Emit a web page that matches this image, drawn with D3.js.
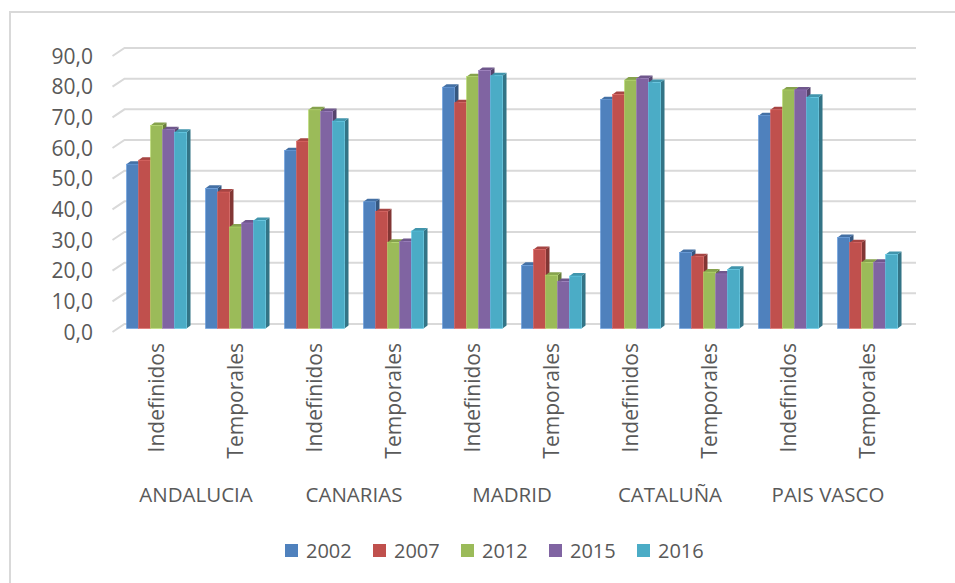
<!DOCTYPE html>
<html>
<head>
<meta charset="utf-8">
<script src="https://cdn.jsdelivr.net/npm/d3@7"></script>
<style>
    body { margin: 0; background: #fff; }
    svg text { font-family: "Open Sans", sans-serif; fill: #595959; }
</style>
</head>
<body>
<div id="chart"></div>
<script>
const regions = ["ANDALUCIA", "CANARIAS", "MADRID", "CATALUÑA", "PAIS VASCO"];
const contractTypes = ["Indefinidos", "Temporales"];
const years = ["2002", "2007", "2012", "2015", "2016"];
const yTicks = [0, 10, 20, 30, 40, 50, 60, 70, 80, 90];

// values per year, order: region x contract type
const values2002 = [53.6, 45.7, 58.0, 41.3, 78.7, 20.6, 74.6, 24.8, 69.4, 29.7];
const values2007 = [54.9, 44.5, 61.1, 38.1, 73.6, 25.8, 76.3, 23.4, 71.3, 28.0];
const values2012 = [66.2, 33.1, 71.3, 28.1, 82.1, 17.4, 81.0, 18.4, 77.8, 21.6];
const values2015 = [64.8, 34.4, 70.8, 28.4, 84.1, 15.3, 81.5, 17.8, 77.8, 21.6];
const values2016 = [64.0, 35.2, 67.6, 31.8, 82.4, 17.1, 80.2, 19.3, 75.4, 24.1];

const colors = ["#4F81BD", "#C0504D", "#9BBB59", "#8064A2", "#4BACC6"];

const datasets = years.map((y, i) => ({
    label: y,
    data: [values2002, values2007, values2012, values2015, values2016][i],
    color: colors[i],
}));

const categories = [];
regions.forEach((r) => contractTypes.forEach((t) => categories.push(`${r}|${t}`)));

const width = 955;
const height = 583;

const svg = d3
    .select("#chart")
    .append("svg")
    .attr("width", width)
    .attr("height", height);

// outer frame
svg.append("rect")
    .attr("x", 10)
    .attr("y", 12)
    .attr("width", 960)
    .attr("height", 600)
    .attr("fill", "none")
    .attr("stroke", "#d9d9d9")
    .attr("stroke-width", 2);

// scales (bar plane)
const xScale = d3
    .scaleBand()
    .domain(categories)
    .range([117, 907])
    .paddingInner(0.24)
    .paddingOuter(0.12);

const xSeries = d3
    .scaleBand()
    .domain(years)
    .range([0, xScale.bandwidth()]);

const yScale = d3.scaleLinear().domain([0, 90]).range([328.5, 52.5]);

// 3D offsets
const frontShift = { x: -4.5, y: 3.5 };
const backShift = { x: 6.5, y: -4.5 };
const backRight = 916;
const depth = { x: 4, y: 3 };

// gridlines: diagonal side wall + back wall
const grid = svg.append("g").attr("class", "grid");
grid.selectAll("path")
    .data(yTicks)
    .join("path")
    .attr("d", (d) => {
        const yf = yScale(d) + frontShift.y;
        const yb = yScale(d) + backShift.y;
        const x0 = xScale.range()[0] + frontShift.x;
        const x1 = xScale.range()[0] + backShift.x + 1;
        return `M${x0},${yf}L${x1},${yb}L${backRight},${yb}`;
    })
    .attr("fill", "none")
    .attr("stroke", "#d9d9d9")
    .attr("stroke-width", 2);

// y axis labels
svg.append("g")
    .selectAll("text")
    .data(yTicks)
    .join("text")
    .attr("x", 93)
    .attr("y", (d) => yScale(d) + frontShift.y)
    .attr("dy", "0.36em")
    .attr("text-anchor", "end")
    .style("font-size", "21px")
    .text((d) => d3.format(".1f")(d).replace(".", ","));

// bars
const bars = svg.append("g").attr("class", "bars");
categories.forEach((cat, ci) => {
    datasets.forEach((dataset) => {
        const v = dataset.data[ci];
        const x0 = xScale(cat) + xSeries(dataset.label);
        const w = xSeries.bandwidth();
        const yt = yScale(v);
        const yb = yScale(0);
        const c = d3.color(dataset.color);
        const g = bars.append("g");

        g.append("path")
            .attr("d", `M${x0 + w},${yt}L${x0 + w + depth.x},${yt - depth.y}L${x0 + w + depth.x},${yb - depth.y}L${x0 + w},${yb}Z`)
            .attr("fill", c.darker(1.1));

        g.append("path")
            .attr("d", `M${x0},${yt}L${x0 + depth.x},${yt - depth.y}L${x0 + w + depth.x},${yt - depth.y}L${x0 + w},${yt}Z`)
            .attr("fill", c.darker(0.4));

        g.append("rect")
            .attr("x", x0)
            .attr("y", yt)
            .attr("width", w)
            .attr("height", yb - yt)
            .attr("fill", dataset.color)
            .attr("stroke", c.brighter(0.5))
            .attr("stroke-width", 0.5);
    });
});

// category tick labels (rotated)
svg.append("g")
    .selectAll("text")
    .data(categories)
    .join("text")
    .attr("transform", (d) => `translate(${xScale(d) + xScale.bandwidth() / 2},343) rotate(-90)`)
    .attr("dy", "0.36em")
    .attr("text-anchor", "end")
    .style("font-size", "21px")
    .text((d) => d.split("|")[1]);

// region labels
svg.append("g")
    .selectAll("text")
    .data(regions)
    .join("text")
    .attr("x", (r) => {
        const a = xScale(`${r}|${contractTypes[0]}`);
        const b = xScale(`${r}|${contractTypes[1]}`);
        return (a + b + xScale.bandwidth()) / 2;
    })
    .attr("y", 502)
    .attr("text-anchor", "middle")
    .style("font-size", "20.5px")
    .text((d) => d);

// legend
const legend = svg.append("g").attr("class", "legend").attr("transform", "translate(285, 544)");
datasets.forEach((dataset, i) => {
    const item = legend.append("g").attr("transform", `translate(${i * 88}, 0)`);
    item.append("rect")
        .attr("width", 13)
        .attr("height", 13)
        .attr("fill", dataset.color);
    item.append("text")
        .attr("x", 21)
        .attr("y", 13.5)
        .style("font-size", "20px")
        .text(dataset.label);
});
</script>
</body>
</html>
